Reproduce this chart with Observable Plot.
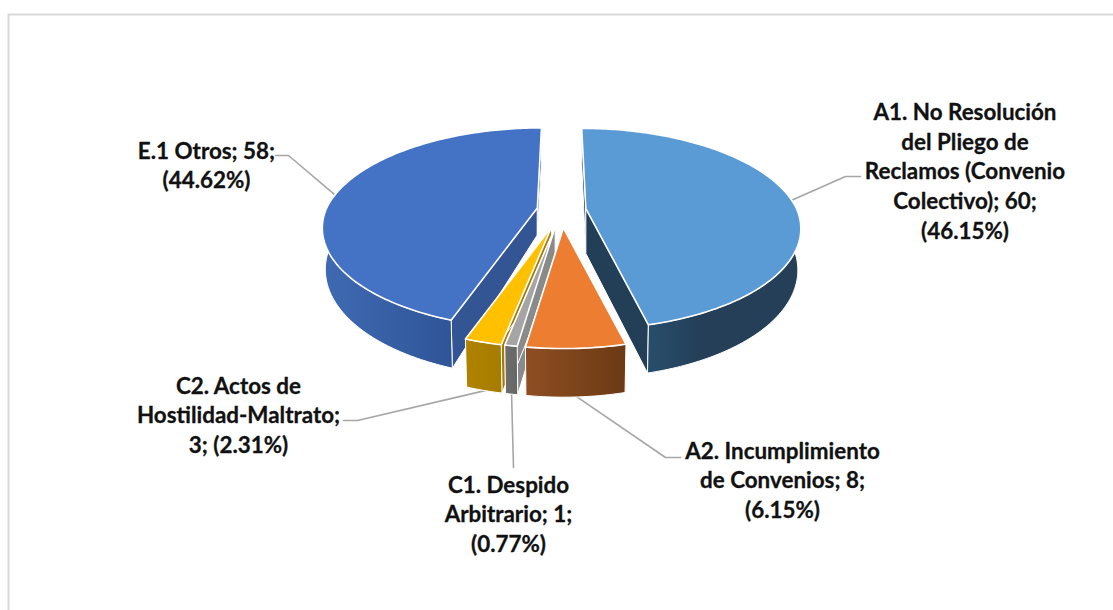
<!DOCTYPE html>
<html><head><meta charset="utf-8">
<script src="https://cdn.jsdelivr.net/npm/d3@7"></script>
<script src="https://cdn.jsdelivr.net/npm/@observablehq/plot@0.6"></script>
<style>html,body{margin:0;padding:0;background:#fff}svg{display:block}</style>
</head><body><div id="chart"></div>
<script>
const categories = ["A1. No Resolución del Pliego de Reclamos (Convenio Colectivo)", "A2. Incumplimiento de Convenios", "C1. Despido Arbitrario", "C2. Actos de Hostilidad-Maltrato", "E.1 Otros"];
const counts = [60, 8, 1, 3, 58];
const percents = ["46.15%", "6.15%", "0.77%", "2.31%", "44.62%"];
const labelLines = [
  ["A1. No Resolución", "del Pliego de", "Reclamos (Convenio", "Colectivo); 60;", "(46.15%)"],
  ["A2. Incumplimiento", "de Convenios; 8;", "(6.15%)"],
  ["C1. Despido", "Arbitrario; 1;", "(0.77%)"],
  ["C2. Actos de", "Hostilidad-Maltrato;", "3; (2.31%)"],
  ["E.1 Otros; 58;", "(44.62%)"]
];
const topColors = ["#5b9bd5", "#ed7d31", "#a5a5a5", "#ffc000", "#4472c4"];
const explode = [0.114, 0.18, 0.175, 0.175, 0.114];
const apexDepth = [45, 45, 45, 45, 27];
const drawOrder = [4, 0, 3, 2, 1];
const edgeColors = ["#233f57", "#7a4219", "#8a8a8a", "#a67c00", "#335593"];
const labelAnchors = [[964.5, 169.5], [782, 478.5], [508, 512.5], [238, 413.5], [206, 163.5]];
const leaderElbows = [[[860, 176], [845, 176]], [[680, 457], [665, 457]], [[513, 467]], [[343, 420], [357, 420]], [[275, 155], [288, 155]]];
const leaderAngles = [85, 177, 189.7, 195, 278];

const W = 1113, H = 610;
const top3d = {cx: 561, cy: 229.5, rx: 215, ry: 100.5, s: 0.2};
const bot3d = {cx: 561, cy: 271, rx: 212, ry: 107.6, s: 0.2};
function project(p, u, v) {
  const d = 1 - p.s * v;
  return [p.cx + p.rx * u * Math.sqrt(1 - p.s * p.s) / d, p.cy + p.ry * (v - p.s) / d];
}
const total = d3.sum(counts);
let acc = 0;
const slices = counts.map((c, i) => {
  const a0 = acc / total * 360; acc += c; const a1 = acc / total * 360;
  const mid = (a0 + a1) / 2 * Math.PI / 180;
  return {i, a0, a1, ex: explode[i] * Math.sin(mid), ey: -explode[i] * Math.cos(mid)};
});
// Plane point (u, v) of an exploded slice; the shift shrinks toward the far edge.
const placed = (p, s, u, v) => {
  const [x, y] = project(p, u, v);
  const f = v < 0 ? 1 + 0.17 * v : 1;
  return [x + s.ex * top3d.rx * f, y + s.ey * top3d.ry * f];
};
const rimPoint = (p, s, deg) => {
  const r = deg * Math.PI / 180;
  return placed(p, s, Math.sin(r), -Math.cos(r));
};
const arc = (p, s, a0, a1) => {
  const n = Math.max(2, Math.ceil(Math.abs(a1 - a0)));
  return d3.range(n + 1).map(k => rimPoint(p, s, a0 + (a1 - a0) * k / n));
};
const closed = pts => [...pts, pts[0]];
const face = (pts, fill, sw = 1.6) => Plot.line(closed(pts), {x: d => d[0], y: d => d[1], fill, stroke: "#ffffff", strokeWidth: sw, curve: "linear"});

const marks = [];
marks.push(() => {
  const ns = "http://www.w3.org/2000/svg";
  const defs = document.createElementNS(ns, "defs");
  const grads = [
    ["g0", [[0, "#284e6d"], [0.35, "#243f57"], [1, "#243f57"]]],
    ["g1", [[0, "#8f4e22"], [1, "#6b3a14"]]],
    ["g2", [[0, "#6e6e6e"], [1, "#666666"]]],
    ["g3", [[0, "#b08300"], [1, "#a67c00"]]],
    ["g4", [[0, "#3f6ab3"], [1, "#2f5597"]]]
  ];
  for (const [id, stops] of grads) {
    const g = document.createElementNS(ns, "linearGradient");
    g.setAttribute("id", id);
    stops.forEach(([o, c]) => {
      const st = document.createElementNS(ns, "stop");
      st.setAttribute("offset", o); st.setAttribute("stop-color", c); g.appendChild(st);
    });
    defs.appendChild(g);
  }
  return defs;
});
// frame
marks.push(Plot.line([[8, 610], [8, 14], [1113, 14]], {x: d => d[0], y: d => d[1], stroke: "#d9d9d9", strokeWidth: 2}));
// leaders
slices.forEach((s, i) => {
  const start = rimPoint(i === 0 || i === 4 ? top3d : bot3d, s, leaderAngles[i]);
  const tail = leaderElbows[i].slice().reverse();
  marks.push(Plot.line([start, ...tail], {x: d => d[0], y: d => d[1], stroke: "#a6a6a6", strokeWidth: 1.6}));
});
// slices back to front
for (const i of drawOrder) {
  const s = slices[i];
  const apexT = placed(top3d, s, 0, 0);
  const apexB = [apexT[0], apexT[1] + apexDepth[i]];
  marks.push(face([apexT, rimPoint(top3d, s, s.a0), rimPoint(bot3d, s, s.a0), apexB], edgeColors[i], 1));
  marks.push(face([apexT, rimPoint(top3d, s, s.a1), rimPoint(bot3d, s, s.a1), apexB], edgeColors[i], 1));
  const wallA0 = i === 0 ? 82 : s.a0;
  const wallA1 = i === 4 ? 278 : s.a1;
  marks.push(face([...arc(top3d, s, wallA0, wallA1), ...arc(bot3d, s, wallA1, wallA0)], `url(#g${i})`, 1));
  marks.push(face([apexT, ...arc(top3d, s, s.a0, s.a1)], topColors[i]));
}
// labels
labelLines.forEach((lines, i) => {
  marks.push(Plot.text([lines.join("\n")], {
    x: () => labelAnchors[i][0], y: () => labelAnchors[i][1], text: d => d,
    fontSize: 22.4, fontWeight: 700, fontFamily: "Lato", fill: "#111111", stroke: "#111111", strokeWidth: 0.3,
    textAnchor: "middle", lineAnchor: "middle", lineHeight: 1.32
  }));
});
const chart = Plot.plot({
  width: W, height: H, margin: 0,
  x: {domain: [0, W], range: [0, W], axis: null},
  y: {domain: [0, H], range: [0, H], axis: null},
  style: {background: "#ffffff"},
  marks
});
document.getElementById("chart").appendChild(chart);
</script></body></html>
